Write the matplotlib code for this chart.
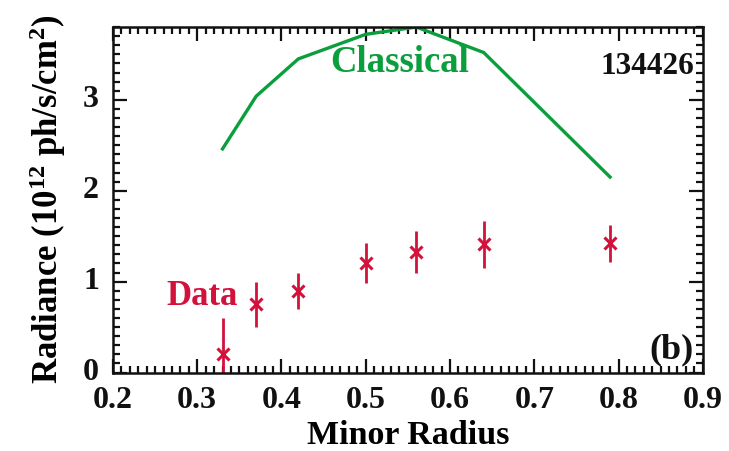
import matplotlib
matplotlib.use("Agg")
import matplotlib.pyplot as plt
import matplotlib.transforms as mtransforms
from matplotlib.ticker import MultipleLocator

# Minor radius positions of the chords
radius = [0.33, 0.37, 0.42, 0.50, 0.56, 0.64, 0.79]
# Measured radiance and its uncertainty (10^12 ph/s/cm^2)
data_radiance = [0.20, 0.75, 0.90, 1.20, 1.33, 1.41, 1.42]
data_error = [0.40, 0.25, 0.20, 0.22, 0.23, 0.26, 0.20]
# Classical prediction
classical_radiance = [2.46, 3.04, 3.45, 3.72, 3.80, 3.52, 2.15]

x_ticks = [0.2, 0.3, 0.4, 0.5, 0.6, 0.7, 0.8, 0.9]
y_ticks = [0, 1, 2, 3]

GREEN = "#0a9e3c"
RED = "#d3123c"
SERIF = "Liberation Serif"

plt.rcParams["font.family"] = SERIF
plt.rcParams["font.weight"] = "bold"
plt.rcParams["mathtext.fontset"] = "custom"
plt.rcParams["mathtext.rm"] = "Liberation Serif:bold"
plt.rcParams["mathtext.bf"] = "Liberation Serif:bold"
plt.rcParams["mathtext.default"] = "rm"

fig = plt.figure(figsize=(7.29, 4.51), dpi=100)
ax = fig.add_axes([0.155, 0.174, 0.809, 0.766])

ax.plot(radius, classical_radiance, color=GREEN, lw=2.4, solid_joinstyle="miter")
ax.errorbar(radius, data_radiance, yerr=data_error, fmt="x", color=RED,
            ms=9, mew=2.2, elinewidth=2.0, capsize=0)

ax.set_xlim(0.2, 0.9)
ax.set_ylim(0, 3.8)
ax.set_xticks(x_ticks)
ax.set_xticklabels([f"{v:.1f}" for v in x_ticks])
ax.set_yticks(y_ticks)
ax.set_yticklabels([str(v) for v in y_ticks])
ax.xaxis.set_minor_locator(MultipleLocator(0.01))
ax.yaxis.set_minor_locator(MultipleLocator(0.1))

ax.tick_params(which="both", direction="in", top=True, right=True, width=1.6,
               colors="#111111")
ax.tick_params(which="major", length=10, labelsize=23, pad=10)
ax.tick_params(which="minor", length=5)
for s in ax.spines.values():
    s.set_linewidth(1.8)
    s.set_color("#111111")

# lift the y tick labels slightly above their ticks
offset = mtransforms.ScaledTranslation(0, 4 / 100, fig.dpi_scale_trans)
for lab in ax.get_yticklabels():
    lab.set_transform(lab.get_transform() + offset)

ax.set_xlabel("Minor Radius", fontsize=24.5, fontweight="bold", labelpad=3)
ax.set_ylabel(r"Radiance (10$^{12}$ ph/s/cm$^{2}$)", fontsize=25,
              fontweight="bold", labelpad=11)

ax.text(0.54, 3.41, "Classical", color=GREEN, fontsize=26.5, fontweight="bold",
        ha="center", va="center")
ax.text(0.306, 0.84, "Data", color=RED, fontsize=25, fontweight="bold",
        ha="center", va="center")
ax.text(0.985, 0.885, "134426", color="#111111", fontsize=22.5, fontweight="bold",
        ha="right", va="center", transform=ax.transAxes)
ax.text(0.985, 0.065, "(b)", color="#111111", fontsize=26, fontweight="bold",
        ha="right", va="center", transform=ax.transAxes)

fig.savefig("out.png", dpi=100)
